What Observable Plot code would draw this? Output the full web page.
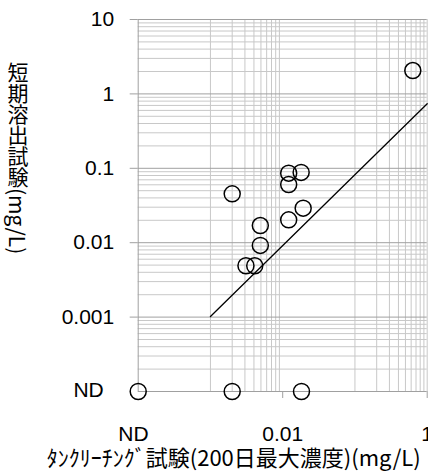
<!DOCTYPE html>
<html><head><meta charset="utf-8">
<script src="https://cdn.jsdelivr.net/npm/d3@7"></script>
<script src="https://cdn.jsdelivr.net/npm/@observablehq/plot@0.6"></script>
<style>
body{margin:0;background:#fff}
#wrap{position:relative;width:428px;height:473px;overflow:hidden}
#ytitle{position:absolute;left:7px;top:62px;writing-mode:vertical-rl;text-orientation:mixed;font-family:"Noto Sans CJK JP",sans-serif;font-size:21px;line-height:21px;color:#000;white-space:nowrap}
</style>
</head><body><div id="wrap"></div>
<script>
const ND = 0.0001;
// タンクリーチング試験 (x) and 短期溶出試験 (y), mg/L; ND plotted at 0.0001
const tankX  = [ND, 0.0020, 0.0182, 0.0020, 0.0121, 0.0180, 0.0121, 0.0192, 0.0121, 0.0049, 0.0049, 0.0031, 0.0041, 0.632];
const shortY = [ND, ND,     ND,     0.0454, 0.086,  0.088,  0.0605, 0.0291, 0.0203, 0.0170, 0.0092, 0.0049, 0.0049, 2.06];
const fitX = [0.001, 1];
const fitY = [0.00102, 0.736];
const yTicks = [0.001, 0.01, 0.1, 1, 10];
const yTickLabels = ["0.001", "0.01", "0.1", "1", "10"];
const xTicks = [0.01, 1];
const xTickLabels = ["0.01", "1"];
const ndLabel = "ND";
const xTitle = "ﾀﾝｸﾘｰﾁﾝｸﾞ試験(200日最大濃度)(mg/L)";
const yTitle = "短期溶出試験(mg/L)";

const yMinor = [];
[ND, 0.001, 0.01, 0.1, 1].forEach(b => { for (let k = 2; k <= 9; k++) yMinor.push(b * k); });
const xMinor = [];
[0.001, 0.1].forEach(b => { for (let k = 1; k <= 9; k++) xMinor.push(b * k); });
xMinor.push(1);

const points = tankX.map((x, i) => ({x, y: shortY[i]}));
const fit = fitX.map((x, i) => ({x, y: fitY[i]}));

const plot = Plot.plot({
  width: 428, height: 473,
  marginLeft: 137.7, marginRight: 1.3, marginTop: 19, marginBottom: 82,
  style: {fontFamily: "'Liberation Sans', Arial, sans-serif", fontSize: "21px", color: "#000", background: "#fff"},
  x: {type: "log", domain: [ND, 1]},
  y: {type: "log", domain: [ND, 10]},
  marks: [
    Plot.ruleY(yMinor, {stroke: "#c8c8c8", strokeWidth: 1}),
    Plot.ruleX(xMinor, {stroke: "#c8c8c8", strokeWidth: 1}),
    Plot.ruleY(yTicks, {stroke: "#a0a0a0", strokeWidth: 1}),
    Plot.ruleY([ND], {stroke: "#a0a0a0", strokeWidth: 1}),
    Plot.ruleX([ND], {stroke: "#a0a0a0", strokeWidth: 1}),
    Plot.axisY(yTicks, {tickFormat: d => yTickLabels[yTicks.indexOf(d)], tickSize: 8, tickPadding: 16, stroke: "#a0a0a0", fontSize: 21, label: null}),
    Plot.axisX(xTicks, {tickFormat: d => xTickLabels[xTicks.indexOf(d)], tickSize: 7, tickPadding: 28, stroke: "#a0a0a0", fontSize: 21, label: null}),
    Plot.text([ndLabel], {x: () => ND, y: () => ND, text: d => d, textAnchor: "end", dx: -34.4, dy: -1, fontSize: 21}),
    Plot.text([ndLabel], {x: () => ND, y: () => ND, text: d => d, dx: -4.7, dy: 43, fontSize: 21}),
    Plot.text([xTitle], {frameAnchor: "bottom", text: d => d, dx: -49, dy: 74, fontSize: 22, fontFamily: "'Noto Sans CJK JP', sans-serif"}),
    Plot.line(fit, {x: "x", y: "y", stroke: "#000", strokeWidth: 1.3}),
    Plot.dot(points, {x: "x", y: "y", r: 8, stroke: "#000", strokeWidth: 1.5, fill: "none"})
  ]
});
const wrap = document.getElementById("wrap");
wrap.appendChild(plot);
const yt = document.createElement("div");
yt.id = "ytitle";
yt.textContent = yTitle;
wrap.appendChild(yt);
</script>
</body></html>
